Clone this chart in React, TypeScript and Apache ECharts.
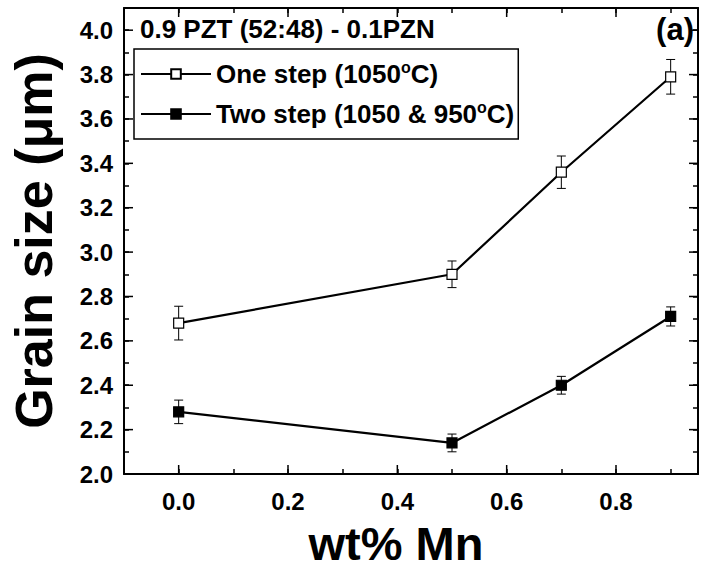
import React, { useEffect, useRef } from "react";
import * as echarts from "echarts";

const xValues = [0, 0.5, 0.7, 0.9];
const oneStep = [2.68, 2.9, 3.36, 3.79];
const oneStepErr = [0.076, 0.06, 0.073, 0.078];
const twoStep = [2.28, 2.14, 2.4, 2.71];
const twoStepErr = [0.053, 0.04, 0.04, 0.043];
const xMajorTicks = [0, 0.2, 0.4, 0.6, 0.8];
const yMajorTicks = [2.0, 2.2, 2.4, 2.6, 2.8, 3.0, 3.2, 3.4, 3.6, 3.8, 4.0];

const X_MIN = -0.1;
const X_MAX = 0.95;
const Y_MIN = 2.0;
const Y_MAX = 4.1;

const FONT = "'Liberation Sans', Arial, Helvetica, sans-serif";

const labelFmt = (v: number) => {
  const t = v * 10;
  const r = Math.round(t);
  if (Math.abs(t - r) > 1e-6) return "";
  if (r % 2 !== 0) return "";
  return v.toFixed(1);
};

const axisCommon = {
  type: "value" as const,
  splitLine: { show: false },
  axisLine: { show: true, onZero: false, lineStyle: { color: "#000", width: 2 } },
  axisTick: { show: true, inside: true, length: 5, lineStyle: { color: "#000", width: 1.5 } },
};

export default function App() {
  const ref = useRef<HTMLDivElement>(null);
  useEffect(() => {
    if (!ref.current) return;
    const chart = echarts.init(ref.current, null, { renderer: "svg" });

    const errData = (xs: number[], ys: number[], es: number[]) =>
      xs.map((x, i) => [x, ys[i] - es[i], ys[i] + es[i]]);

    const errRender = (params: any, api: any) => {
      const x = api.value(0);
      const lo = api.value(1);
      const hi = api.value(2);
      const pLo = api.coord([x, lo]);
      const pHi = api.coord([x, hi]);
      const hw = 4.5;
      const st = { stroke: "#000", lineWidth: 1 };
      return {
        type: "group",
        children: [
          { type: "line", shape: { x1: pLo[0], y1: pLo[1], x2: pHi[0], y2: pHi[1] }, style: st },
          { type: "line", shape: { x1: pLo[0] - hw, y1: pLo[1], x2: pLo[0] + hw, y2: pLo[1] }, style: st },
          { type: "line", shape: { x1: pHi[0] - hw, y1: pHi[1], x2: pHi[0] + hw, y2: pHi[1] }, style: st },
        ],
      };
    };

    const tickStyle = { stroke: "#000", lineWidth: 1.5 };
    const xTickRender = (params: any, api: any) => {
      const v = api.value(0);
      const b = api.coord([v, Y_MIN]);
      const t = api.coord([v, Y_MAX]);
      return {
        type: "group",
        children: [
          { type: "line", shape: { x1: b[0], y1: b[1], x2: b[0], y2: b[1] - 9 }, style: tickStyle },
          { type: "line", shape: { x1: t[0], y1: t[1], x2: t[0], y2: t[1] + 9 }, style: tickStyle },
        ],
      };
    };
    const yTickRender = (params: any, api: any) => {
      const v = api.value(1);
      const l = api.coord([X_MIN, v]);
      const r = api.coord([X_MAX, v]);
      return {
        type: "group",
        children: [
          { type: "line", shape: { x1: l[0], y1: l[1], x2: l[0] + 9, y2: l[1] }, style: tickStyle },
          { type: "line", shape: { x1: r[0], y1: r[1], x2: r[0] - 9, y2: r[1] }, style: tickStyle },
        ],
      };
    };

    const legendNames: Record<string, string> = {
      "One step (1050oC)": "One step (1050{sup|o}C)",
      "Two step (1050 & 950oC)": "Two step (1050 & 950{sup|o}C)",
    };

    chart.setOption({
      animation: false,
      backgroundColor: "#fff",
      textStyle: { fontFamily: FONT },
      grid: { left: 124, right: 4, top: 8, bottom: 95 },
      xAxis: [
        {
          ...axisCommon,
          position: "bottom",
          min: X_MIN,
          max: X_MAX,
          interval: 0.1,
          axisLabel: {
            formatter: labelFmt,
            showMinLabel: false,
            showMaxLabel: false,
            color: "#000",
            fontSize: 24,
            fontWeight: "bold",
            fontFamily: FONT,
            margin: 15,
          },
          name: "wt% Mn",
          nameLocation: "middle",
          nameGap: 46,
          nameTextStyle: {
            color: "#000",
            fontSize: 47,
            fontWeight: "bold",
            fontFamily: FONT,
            padding: [0, 30, 0, 0],
          },
        },
        {
          ...axisCommon,
          position: "top",
          min: X_MIN,
          max: X_MAX,
          interval: 0.1,
          axisLabel: { show: false },
        },
      ],
      yAxis: [
        {
          ...axisCommon,
          position: "left",
          min: Y_MIN,
          max: Y_MAX,
          interval: 0.1,
          axisLabel: {
            formatter: labelFmt,
            showMaxLabel: false,
            color: "#000",
            fontSize: 24,
            fontWeight: "bold",
            fontFamily: FONT,
            margin: 11,
          },
          name: "Grain size (\u03bcm)",
          nameLocation: "middle",
          nameGap: 64,
          nameRotate: 90,
          nameTextStyle: { color: "#000", fontSize: 52, fontWeight: "bold", fontFamily: FONT },
        },
        {
          ...axisCommon,
          position: "right",
          min: Y_MIN,
          max: Y_MAX,
          interval: 0.1,
          axisLabel: { show: false },
        },
      ],
      legend: {
        data: Object.keys(legendNames),
        orient: "vertical",
        left: 134,
        top: 49,
        borderColor: "#000",
        borderWidth: 1.5,
        padding: [10, 4, 10, 6],
        itemGap: 10,
        itemWidth: 70,
        itemHeight: 12,
        formatter: (name: string) => legendNames[name] || name,
        textStyle: {
          color: "#000",
          fontSize: 26,
          fontWeight: "bold",
          fontFamily: FONT,
          lineHeight: 30,
          rich: {
            sup: {
              fontSize: 16,
              fontWeight: "bold",
              fontFamily: FONT,
              verticalAlign: "top",
              lineHeight: 30,
              padding: [0, 0, 12, 0],
            },
          },
        },
      },
      graphic: [
        {
          type: "text",
          left: 140,
          top: 16,
          style: { text: "0.9 PZT (52:48) - 0.1PZN", font: `bold 26px ${FONT}`, fill: "#000" },
        },
        {
          type: "text",
          right: 8,
          top: 14,
          style: { text: "(a)", font: `bold 31px ${FONT}`, fill: "#000" },
        },
      ],
      series: [
        {
          name: "xMajor",
          type: "custom",
          silent: true,
          clip: false,
          renderItem: xTickRender,
          data: xMajorTicks.map((v) => [v, Y_MIN]),
          z: 5,
        },
        {
          name: "yMajor",
          type: "custom",
          silent: true,
          clip: false,
          renderItem: yTickRender,
          data: yMajorTicks.map((v) => [X_MIN, v]),
          z: 5,
        },
        {
          name: "oneErr",
          type: "custom",
          silent: true,
          renderItem: errRender,
          encode: { x: 0, y: [1, 2] },
          data: errData(xValues, oneStep, oneStepErr),
          z: 1,
        },
        {
          name: "twoErr",
          type: "custom",
          silent: true,
          renderItem: errRender,
          encode: { x: 0, y: [1, 2] },
          data: errData(xValues, twoStep, twoStepErr),
          z: 1,
        },
        {
          name: "One step (1050oC)",
          type: "line",
          data: xValues.map((x, i) => [x, oneStep[i]]),
          symbol: "rect",
          symbolSize: 10,
          showAllSymbol: true,
          lineStyle: { color: "#000", width: 2.2 },
          itemStyle: { color: "#fff", borderColor: "#000", borderWidth: 1.2 },
          z: 3,
        },
        {
          name: "Two step (1050 & 950oC)",
          type: "line",
          data: xValues.map((x, i) => [x, twoStep[i]]),
          symbol: "rect",
          symbolSize: 10,
          showAllSymbol: true,
          lineStyle: { color: "#000", width: 2.2 },
          itemStyle: { color: "#000", borderColor: "#000", borderWidth: 1.2 },
          z: 3,
        },
      ],
    });
    return () => chart.dispose();
  }, []);
  return <div ref={ref} style={{ position: "fixed", left: 0, top: 0, width: 702, height: 572 }} />;
}
